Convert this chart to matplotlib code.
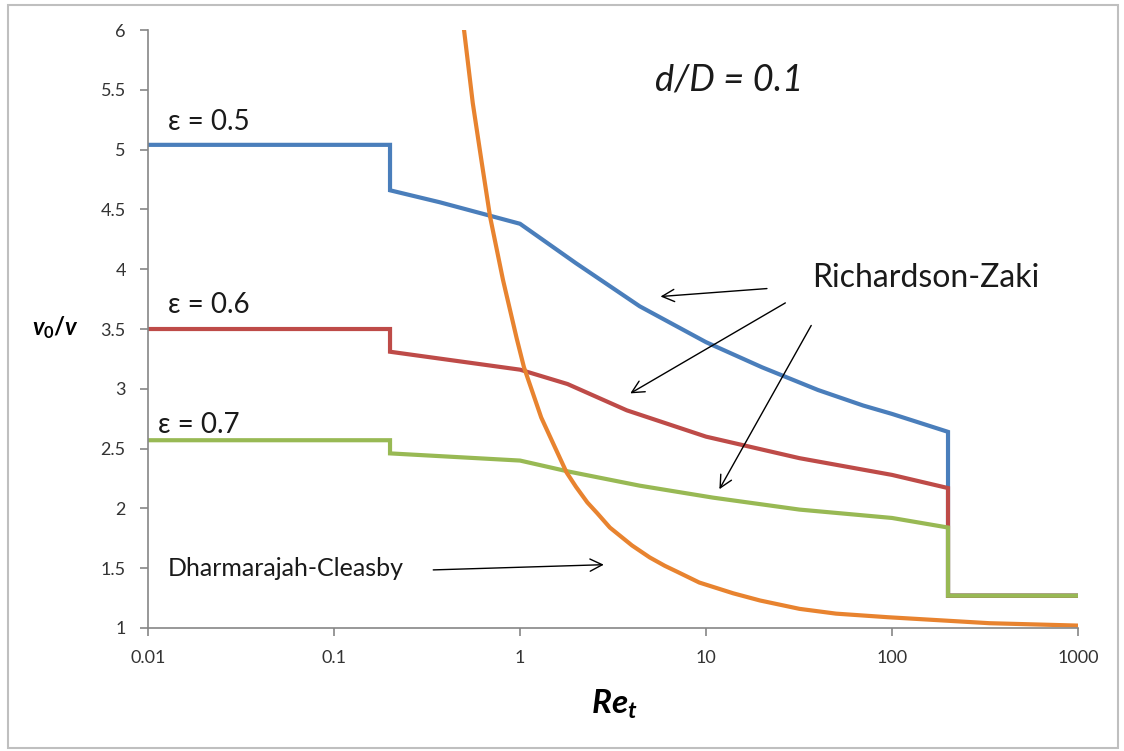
import numpy as np
import matplotlib.pyplot as plt
from matplotlib.patches import Rectangle
from matplotlib.ticker import FixedLocator, FixedFormatter, NullLocator

plt.rcParams['font.family'] = ['Lato', 'DejaVu Sans']
plt.rcParams['mathtext.fontset'] = 'custom'
plt.rcParams['mathtext.it'] = 'Lato:italic:bold'
plt.rcParams['mathtext.rm'] = 'Lato:bold'

# Richardson-Zaki curves (Re_t, v0/v)
re_05 = [0.01, 0.2, 0.2, 0.37, 1, 2, 4.4, 10, 20, 40, 70, 100, 200, 200, 1000]
v_05 = [5.04, 5.04, 4.66, 4.56, 4.38, 4.05, 3.69, 3.39, 3.18, 2.99, 2.86, 2.79, 2.64, 1.27, 1.27]

re_06 = [0.01, 0.2, 0.2, 1, 1.8, 3.75, 10, 31.8, 100, 200, 200, 1000]
v_06 = [3.50, 3.50, 3.31, 3.16, 3.04, 2.82, 2.60, 2.42, 2.28, 2.17, 1.27, 1.27]

re_07 = [0.01, 0.2, 0.2, 1, 1.8, 4.4, 10.9, 31.8, 100, 200, 200, 1000]
v_07 = [2.57, 2.57, 2.46, 2.40, 2.31, 2.19, 2.09, 1.99, 1.92, 1.84, 1.27, 1.27]

# Dharmarajah-Cleasby
re_dc = [0.5, 0.557, 0.62, 0.69, 0.81, 0.96, 1.05, 1.3, 1.5, 1.78, 2.0, 2.3, 2.6,
         3.04, 4.0, 4.98, 6, 7, 9.2, 14, 19.5, 31.8, 50, 95, 334, 1000]
v_dc = [6.0, 5.39, 4.91, 4.44, 3.91, 3.42, 3.18, 2.76, 2.55, 2.30, 2.18, 2.05, 1.96,
        1.84, 1.69, 1.59, 1.52, 1.47, 1.38, 1.29, 1.23, 1.16, 1.12, 1.09, 1.04, 1.02]

x_ticks = [0.01, 0.1, 1, 10, 100, 1000]
x_labels = ['0.01', '0.1', '1', '10', '100', '1000']
y_ticks = [1, 1.5, 2, 2.5, 3, 3.5, 4, 4.5, 5, 5.5, 6]
y_labels = ['1', '1.5', '2', '2.5', '3', '3.5', '4', '4.5', '5', '5.5', '6']

fig = plt.figure(figsize=(11.24, 7.51), dpi=100)
ax = fig.add_axes([0.1317, 0.1638, 0.8274, 0.7962])

lw = 3
ax.plot(re_05, v_05, color='#4A7EBB', lw=lw, solid_joinstyle='miter')
ax.plot(re_06, v_06, color='#BE4B48', lw=lw, solid_joinstyle='miter')
ax.plot(re_07, v_07, color='#98B954', lw=lw, solid_joinstyle='miter')
ax.plot(re_dc, v_dc, color='#E8832F', lw=lw)

ax.set_xscale('log')
ax.set_xlim(0.01, 1000)
ax.set_ylim(1, 6)
ax.xaxis.set_major_locator(FixedLocator(x_ticks))
ax.xaxis.set_major_formatter(FixedFormatter(x_labels))
ax.xaxis.set_minor_locator(NullLocator())
ax.yaxis.set_major_locator(FixedLocator(y_ticks))
ax.yaxis.set_major_formatter(FixedFormatter(y_labels))

for s in ['top', 'right']:
    ax.spines[s].set_visible(False)
for s in ['left', 'bottom']:
    ax.spines[s].set_color('#868686')
    ax.spines[s].set_linewidth(1.2)
ax.tick_params(axis='both', colors='#868686', labelcolor='#333333',
               labelsize=13, width=1.2, length=6)
ax.tick_params(axis='x', pad=10)
ax.tick_params(axis='y', pad=10)

ax.set_xlabel(r'$Re_t$', fontsize=24)
ax.xaxis.set_label_coords(0.501, -0.10)
ax.set_ylabel(r'$v_0/v$', fontsize=17, rotation=0, va='center', ha='center')
ax.yaxis.set_label_coords(-0.099, 0.502)

ax.text(0.0128, 5.23, 'ε = 0.5', fontsize=20, va='center', color='#1a1a1a')
ax.text(0.0128, 3.70, 'ε = 0.6', fontsize=20, va='center', color='#1a1a1a')
ax.text(0.0113, 2.70, 'ε = 0.7', fontsize=20, va='center', color='#1a1a1a')
ax.text(5.3, 5.58, 'd/D = 0.1', fontsize=26, style='italic', va='center', color='#1a1a1a')
ax.text(37, 3.93, 'Richardson-Zaki', fontsize=23, va='center', color='#1a1a1a')
ax.text(0.0128, 1.50, 'Dharmarajah-Cleasby', fontsize=18, va='center', color='#1a1a1a')

arrow = dict(arrowstyle='->', color='black', lw=1, mutation_scale=22)
ax.annotate('', xy=(5.5, 3.77), xytext=(22.0, 3.84), arrowprops=arrow)
ax.annotate('', xy=(3.8, 2.95), xytext=(27.5, 3.73), arrowprops=arrow)
ax.annotate('', xy=(11.6, 2.14), xytext=(37.4, 3.55), arrowprops=arrow)
ax.annotate('', xy=(2.92, 1.53), xytext=(0.33, 1.485), arrowprops=arrow)

fig.patches.append(Rectangle((0.007, 0.004), 0.988, 0.989, transform=fig.transFigure,
                             fill=False, edgecolor='#bfbfbf', lw=1.5))

fig.savefig('out.png', dpi=100)
